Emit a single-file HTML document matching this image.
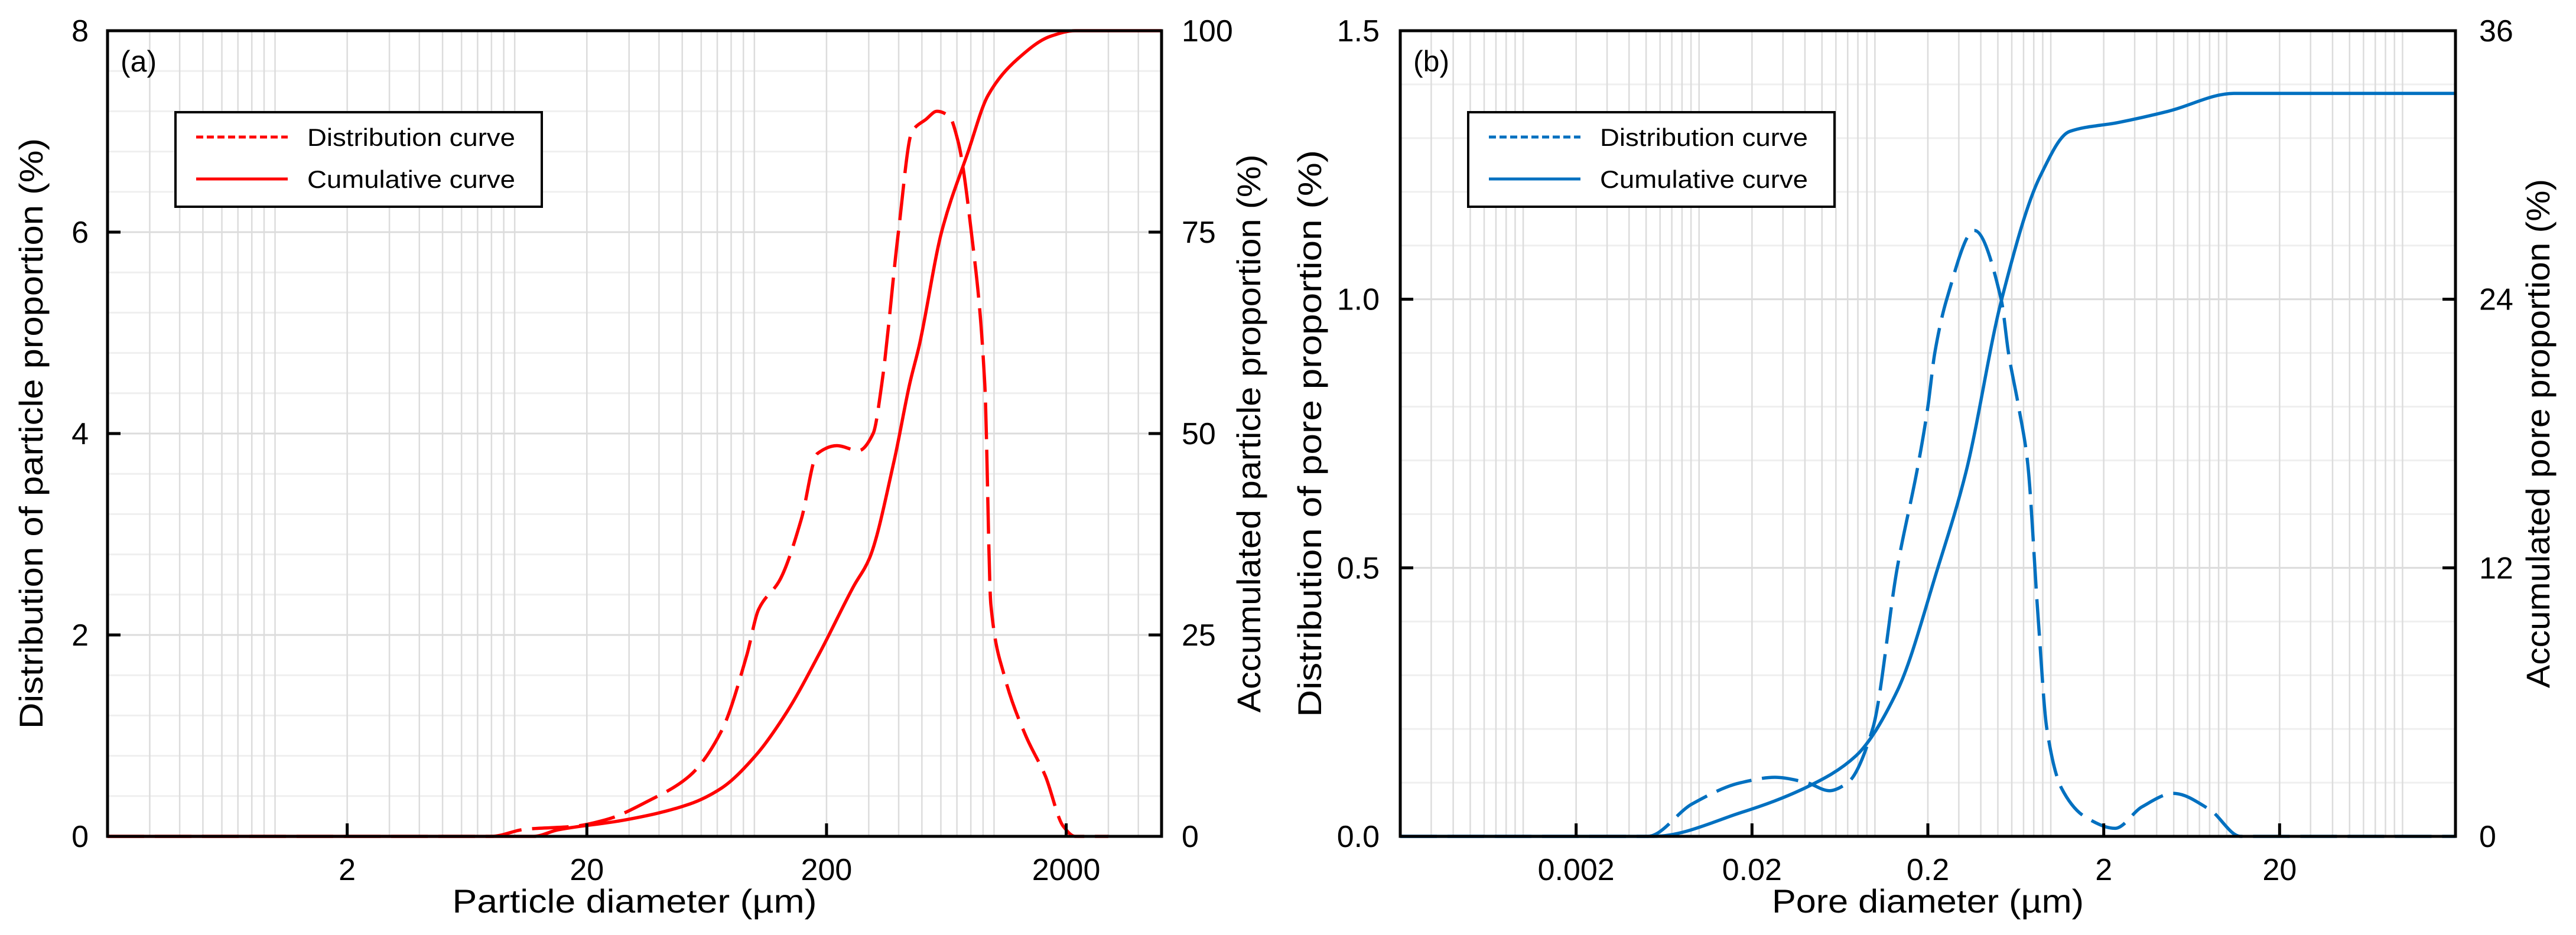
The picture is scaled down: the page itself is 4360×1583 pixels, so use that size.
<!DOCTYPE html>
<html><head><meta charset="utf-8"><style>
html,body{margin:0;padding:0;background:#fff;}
svg{display:block;font-family:"Liberation Sans",sans-serif;}
</style></head><body>
<svg id="fig" width="4360" height="1583" viewBox="0 0 4360 1583" xmlns="http://www.w3.org/2000/svg">
<rect width="4360" height="1583" fill="#fff"/>
<g id="pa"></g>
<g id="pb"></g>
</svg>
<script>
// Panel (a) data
const aDistD = [0.2,8,11,17.7,24.4,36,53.6,73,93,104,128,157,183,221,272,313,340,399,455,520,578,650,708,804,915,970,1102,1356,1637,1945,2178,3000];
const aDistV = [0,0,0.07,0.1,0.17,0.35,0.6,1.05,1.8,2.25,2.55,3.15,3.8,3.88,3.83,4.0,4.49,6.0,7.0,7.12,7.2,7.15,6.9,6.0,4.49,2.3,1.6,1.0,0.6,0.1,0,0];
const aCumD = [0.2,12,15.1,28.4,53.6,73,101,137,189,259,302,384,445,488,604,780,945,1255,1718,2178,5000];
const aCumV = [0,0,0.8,2,4,6,10,15.5,23,31,34.5,46.8,56.2,61,75,85,92,96.5,99.3,100,100];
const aXTicks = [2,20,200,2000];
const aXLabels = ["2","20","200","2000"];
const aYL = [0,2,4,6,8];
const aYR = [0,25,50,75,100];
// Panel (b) data
const bDistD = [0.0002,0.0051,0.0091,0.0173,0.027,0.041,0.055,0.07,0.097,0.134,0.178,0.2,0.219,0.256,0.368,0.522,0.575,0.656,0.736,0.85,0.95,1.15,1.59,2.32,3.3,5.0,8,12,200];
const bDistV = [0,0,0.06,0.1,0.11,0.1,0.085,0.1,0.2,0.5,0.7,0.8,0.9,1.0,1.128,1.0,0.9,0.8,0.7,0.4,0.2,0.09,0.035,0.015,0.055,0.08,0.05,0,0];
const bCumD = [0.0002,0.0055,0.0173,0.041,0.078,0.134,0.228,0.33,0.522,0.87,1.28,2.43,4.65,11,200];
const bCumV = [0,0,1.06,2.2,3.6,6.5,12,16.3,23.9,29.5,31.5,31.9,32.4,33.2,33.2];
const bXTicks = [0.002,0.02,0.2,2,20];
const bXLabels = ["0.002","0.02","0.2","2","20"];
const bYL = [0,0.5,1.0,1.5];
const bYLLabels = ["0.0","0.5","1.0","1.5"];
const bYR = [0,12,24,36];

const NS="http://www.w3.org/2000/svg";
function mk(parent,tag,attrs,text){const e=document.createElementNS(NS,tag);for(const k in attrs)e.setAttribute(k,attrs[k]);if(text!==undefined)e.textContent=text;parent.appendChild(e);return e;}

function monoPath(pts){
  const n=pts.length;if(n<2)return "";
  const dx=[],dy=[],m=[];
  for(let i=0;i<n-1;i++){dx.push(pts[i+1][0]-pts[i][0]);dy.push(pts[i+1][1]-pts[i][1]);m.push(dy[i]/dx[i]);}
  const t=[m[0]];
  for(let i=1;i<n-1;i++){if(m[i-1]*m[i]<=0)t.push(0);else{const w1=2*dx[i]+dx[i-1],w2=dx[i]+2*dx[i-1];t.push((w1+w2)/(w1/m[i-1]+w2/m[i]));}}
  t.push(m[n-2]);
  let d="M"+pts[0][0].toFixed(1)+","+pts[0][1].toFixed(1);
  for(let i=0;i<n-1;i++){const h=dx[i]/3;
    d+=" C"+(pts[i][0]+h).toFixed(1)+","+(pts[i][1]+t[i]*h).toFixed(1)+" "+(pts[i+1][0]-h).toFixed(1)+","+(pts[i+1][1]-t[i+1]*h).toFixed(1)+" "+pts[i+1][0].toFixed(1)+","+pts[i+1][1].toFixed(1);}
  return d;
}

function panel(g,cfg){
  const {x0,x1,y0,y1,dmin,dmax,ylMax,yrMax,color}=cfg;
  const lx=d=>x0+(x1-x0)*(Math.log10(d)-Math.log10(dmin))/(Math.log10(dmax)-Math.log10(dmin));
  const yl=v=>y1-(y1-y0)*v/ylMax;
  const yr=v=>y1-(y1-y0)*v/yrMax;
  // horizontal minor grid
  const grid=mk(g,"g",{});
  
  
  for(let v=cfg.hStep;v<ylMax-1e-9;v+=cfg.hStep){mk(grid,"line",{x1:x0,x2:x1,y1:yl(v),y2:yl(v),stroke:"#efefef","stroke-width":3});}
  // vertical log grid
  const e0=Math.floor(Math.log10(dmin)),e1=Math.ceil(Math.log10(dmax));
  for(let e=e0;e<=e1;e++)for(let k=1;k<10;k++){const d=k*Math.pow(10,e);if(d<=dmin*1.001||d>=dmax*0.999)continue;const x=lx(d);mk(grid,"line",{x1:x,x2:x,y1:y0,y2:y1,stroke:"#dcdcdc","stroke-width":2.5});}
  for(const v of cfg.yL){if(v>0&&v<ylMax)mk(grid,"line",{x1:x0,x2:x1,y1:yl(v),y2:yl(v),stroke:"#dcdcdc","stroke-width":3});}
  // series
  const dist=mk(g,"path",{d:monoPath(cfg.distD.map((d,i)=>[lx(d),yl(cfg.distV[i])])),fill:"none",stroke:color,"stroke-width":5.5,"stroke-dasharray":"62 18"});
  
  
  const cum=mk(g,"path",{d:monoPath(cfg.cumD.map((d,i)=>[lx(d),yr(cfg.cumV[i])])),fill:"none",stroke:color,"stroke-width":5.5});
  
  
  // frame
  const fr=mk(g,"rect",{x:x0,y:y0,width:x1-x0,height:y1-y0,fill:"none",stroke:"#000","stroke-width":5});
  
  
  // x ticks
  cfg.xTicks.forEach((d,i)=>{const x=lx(d);mk(g,"line",{x1:x,x2:x,y1:y1,y2:y1-22,stroke:"#000","stroke-width":5});
    const t=mk(g,"text",{x:x,y:y1+74,"text-anchor":"middle","font-size":52},cfg.xLabels[i]);
    
    });
  // left y ticks
  cfg.yL.forEach((v,i)=>{const y=yl(v);if(v>0&&v<ylMax)mk(g,"line",{x1:x0,x2:x0+22,y1:y,y2:y,stroke:"#000","stroke-width":5});
    const t=mk(g,"text",{x:cfg.lLabX,y:y+18,"text-anchor":"end","font-size":52},cfg.yLLabels[i]);
    
    });
  cfg.yR.forEach((v,i)=>{const y=yr(v);if(v>0&&v<yrMax)mk(g,"line",{x1:x1,x2:x1-22,y1:y,y2:y,stroke:"#000","stroke-width":5});
    const t=mk(g,"text",{x:cfg.rLabX,y:y+18,"text-anchor":"start","font-size":52},String(v));
    
    });
  // titles
  const xt=mk(g,"text",{x:(x0+x1)/2,y:1545,"text-anchor":"middle","font-size":56,textLength:cfg.xTitleLen,lengthAdjust:"spacingAndGlyphs"},cfg.xTitle);
  
  
  const cy=(y0+y1)/2;
  const lt=mk(g,"text",{x:0,y:0,transform:`translate(${cfg.lTitleX},${cy}) rotate(-90)`,"text-anchor":"middle","font-size":56,textLength:cfg.lTitleLen,lengthAdjust:"spacingAndGlyphs"},cfg.lTitle);
  
  
  const rt=mk(g,"text",{x:0,y:0,transform:`translate(${cfg.rTitleX},${cy}) rotate(-90)`,"text-anchor":"middle","font-size":56,textLength:cfg.rTitleLen,lengthAdjust:"spacingAndGlyphs"},cfg.rTitle);
  
  
  const pl=mk(g,"text",{x:x0+22,y:121,"font-size":50},cfg.panelLabel);
  
  
  // legend
  const lg=mk(g,"g",{});
  
  
  const bx=x0+115;
  mk(lg,"rect",{x:bx,y:190,width:620,height:160,fill:"#fff",stroke:"#000","stroke-width":4});
  mk(lg,"line",{x1:bx+35,x2:bx+190,y1:232,y2:232,stroke:color,"stroke-width":5,"stroke-dasharray":"12 6"});
  mk(lg,"line",{x1:bx+35,x2:bx+190,y1:303,y2:303,stroke:color,"stroke-width":5});
  const t1=mk(lg,"text",{x:bx+223,y:247,"font-size":42,textLength:352,lengthAdjust:"spacingAndGlyphs"},"Distribution curve");
  
  
  const t2=mk(lg,"text",{x:bx+223,y:318,"font-size":42,textLength:352,lengthAdjust:"spacingAndGlyphs"},"Cumulative curve");
  
  
}

panel(document.getElementById('pa'),{x0:182,x1:1966,y0:52,y1:1416,dmin:0.2,dmax:5000,ylMax:8,yrMax:100,color:"#ff0000",hStep:0.4,
  distD:aDistD,distV:aDistV,cumD:aCumD,cumV:aCumV,xTicks:aXTicks,xLabels:aXLabels,yL:aYL,yLLabels:aYL.map(String),yR:aYR,
  lLabX:150,rLabX:2000,xTitle:"Particle diameter (µm)",xTitleLen:617,lTitle:"Distribution of particle proportion (%)",lTitleLen:1000,lTitleX:72,
  rTitle:"Accumulated particle proportion (%)",rTitleLen:945,rTitleX:2133,panelLabel:"(a)"});
panel(document.getElementById('pb'),{x0:2370,x1:4156,y0:52,y1:1416,dmin:0.0002,dmax:200,ylMax:1.5,yrMax:36,color:"#0070c0",hStep:0.1,
  distD:bDistD,distV:bDistV,cumD:bCumD,cumV:bCumV,xTicks:bXTicks,xLabels:bXLabels,yL:bYL,yLLabels:bYLLabels,yR:bYR,
  lLabX:2335,rLabX:4196,xTitle:"Pore diameter (µm)",xTitleLen:528,lTitle:"Distribution of pore proportion (%)",lTitleLen:960,lTitleX:2236,
  rTitle:"Accumulated pore proportion (%)",rTitleLen:862,rTitleX:4315,panelLabel:"(b)"});
</script>
</body></html>
